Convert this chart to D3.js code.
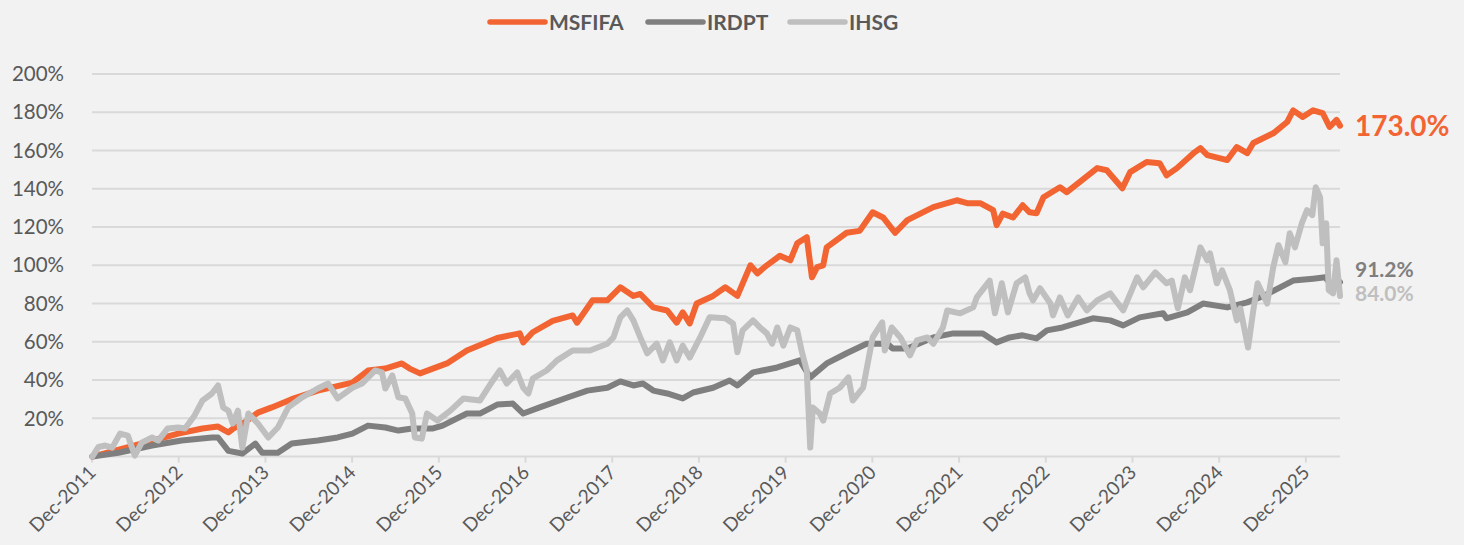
<!DOCTYPE html>
<html>
<head>
<meta charset="utf-8">
<script src="https://cdn.jsdelivr.net/npm/d3@7/dist/d3.min.js"></script>
<style>
html,body{margin:0;padding:0;background:#F2F2F2;}
svg{display:block;}
text{font-family:Lato,"Open Sans",sans-serif;}
</style>
</head>
<body>
<svg id="chart" width="1464" height="545"></svg>
<script>
// ---- Data (decimal years, cumulative return %) ----
const seriesNames = ["MSFIFA", "IRDPT", "IHSG"];
const seriesColors = ["#F26532", "#7F7F7F", "#BFBFBF"];

const msfifaT = [2011.92,2012.41,2012.91,2013.19,2013.37,2013.49,2013.54,2013.68,2013.83,2013.99,2014.22,2014.52,2014.92,2015.10,2015.30,2015.49,2015.58,2015.70,2016.01,2016.24,2016.59,2016.85,2016.89,2017.00,2017.23,2017.46,2017.51,2017.69,2017.86,2018.01,2018.16,2018.24,2018.39,2018.55,2018.66,2018.73,2018.81,2018.89,2019.08,2019.22,2019.36,2019.51,2019.59,2019.70,2019.85,2019.97,2020.05,2020.16,2020.22,2020.28,2020.35,2020.39,2020.62,2020.77,2020.92,2021.04,2021.18,2021.32,2021.62,2021.89,2022.01,2022.16,2022.31,2022.35,2022.42,2022.54,2022.65,2022.73,2022.81,2022.89,2023.08,2023.16,2023.51,2023.62,2023.80,2023.89,2024.08,2024.23,2024.31,2024.43,2024.62,2024.70,2024.78,2025.01,2025.12,2025.24,2025.31,2025.54,2025.70,2025.77,2025.88,2026.00,2026.11,2026.19,2026.27,2026.31];
const msfifaV = [0,5.8,12,14.7,15.7,12.6,14.5,18,23,25.7,30,34.5,38.7,45,46,48.7,46,43.5,48.7,55.5,62,64.4,59.7,65,71,73.8,70,81.7,81.7,88.5,84,85,78,76.4,70,75.4,69.6,80,84,88.5,84,100,95.8,100,105,102.6,111.5,114.7,93.7,99,100,109.4,117,118,127.7,125,117,123.6,130.4,134,132.5,132.5,128.8,121,127,125,131.4,127.7,127.2,135.6,140.8,138.2,150.8,149.7,140.3,148.7,154,153.4,147,150.8,158.6,161.3,157.6,155,161.8,158.6,163.9,169,174.9,181,177.5,181,179.6,172.3,176,173.0];

const irdptT = [2011.92,2012.22,2012.61,2012.95,2013.30,2013.37,2013.49,2013.65,2013.80,2013.88,2014.06,2014.22,2014.52,2014.75,2014.92,2015.10,2015.30,2015.45,2015.61,2015.85,2015.96,2016.24,2016.39,2016.59,2016.77,2016.89,2017.08,2017.40,2017.63,2017.86,2018.01,2018.16,2018.27,2018.39,2018.55,2018.73,2018.85,2019.08,2019.27,2019.36,2019.54,2019.82,2020.08,2020.20,2020.39,2020.62,2020.85,2021.09,2021.15,2021.32,2021.62,2021.85,2022.19,2022.35,2022.50,2022.65,2022.81,2022.93,2023.11,2023.46,2023.66,2023.81,2024.00,2024.27,2024.31,2024.55,2024.73,2025.01,2025.24,2025.42,2025.77,2026.00,2026.14,2026.23,2026.31];
const irdptV = [0,2,5.8,8.4,10,10,3,1.6,6.8,2,2,6.8,8.4,10,12,16.2,15.2,13.6,14.7,14.7,16.2,22.5,22.5,27.2,27.7,22.5,25.7,30.9,34.5,36,39.3,37.2,38.2,34.5,33,30.4,33.5,36,39.8,37.2,44,46.6,50.3,41.4,48.7,54,59,59,56.5,56.5,62.3,64.4,64.4,59.7,62.3,63.4,61.8,66,67.5,72.3,71.2,68.6,72.8,74.9,72.3,75.4,80,78,80.6,83.8,92,93,93.7,88.5,91.2];

const ihsgT = [2011.92,2011.99,2012.07,2012.15,2012.24,2012.33,2012.41,2012.49,2012.61,2012.68,2012.79,2012.91,2012.99,2013.10,2013.19,2013.30,2013.37,2013.43,2013.49,2013.54,2013.60,2013.65,2013.72,2013.83,2013.95,2014.06,2014.18,2014.34,2014.52,2014.64,2014.75,2014.92,2015.03,2015.18,2015.26,2015.30,2015.38,2015.45,2015.53,2015.61,2015.64,2015.72,2015.78,2015.90,2016.05,2016.20,2016.39,2016.54,2016.62,2016.70,2016.82,2016.89,2016.95,2017.00,2017.16,2017.28,2017.46,2017.66,2017.86,2017.93,2018.01,2018.09,2018.16,2018.24,2018.32,2018.43,2018.50,2018.58,2018.66,2018.73,2018.81,2018.93,2019.04,2019.22,2019.31,2019.36,2019.42,2019.54,2019.62,2019.70,2019.76,2019.82,2019.89,2019.97,2020.05,2020.10,2020.16,2020.20,2020.23,2020.31,2020.35,2020.43,2020.54,2020.64,2020.69,2020.81,2020.92,2021.03,2021.06,2021.14,2021.24,2021.35,2021.43,2021.55,2021.62,2021.73,2021.78,2021.93,2022.08,2022.12,2022.27,2022.33,2022.41,2022.48,2022.58,2022.68,2022.73,2022.77,2022.85,2022.97,2023.00,2023.08,2023.17,2023.29,2023.39,2023.51,2023.66,2023.81,2023.97,2024.04,2024.18,2024.31,2024.37,2024.44,2024.52,2024.58,2024.70,2024.78,2024.81,2024.89,2024.95,2025.04,2025.12,2025.16,2025.25,2025.31,2025.36,2025.47,2025.54,2025.60,2025.68,2025.73,2025.79,2025.87,2025.93,2025.99,2026.03,2026.08,2026.11,2026.15,2026.18,2026.23,2026.27,2026.31];
const ihsgV = [0,5,5.8,4.7,12,11,0.5,7.3,10,8.4,14.7,15.2,14.7,21.5,29.3,33,37.2,25.7,24,17.3,24,4.7,22.5,17.3,10,15.2,25.7,31,35.6,38.2,30.4,36,38.2,45,44,35.6,42.4,31,30.4,22.5,10,9.4,22.5,18.8,24,30.4,29.3,39.8,45,38.2,44,36,33,40.8,45,50.3,55.5,55.5,59,62.3,72.8,76.4,71.2,62.3,54,59,50.3,59.7,50.3,58,51.8,62.3,72.8,72.3,69.6,54.5,66,71.2,67.5,64.4,59,67.5,58,67.5,66,55.5,45,4.7,25.7,22.5,18.8,33,36,41.4,29.3,36,62.3,70.2,55.5,67.5,62.3,52.9,60.7,62.3,59,67.5,76.4,74.9,78,83.2,92,74.9,90.6,75.4,90.6,93.7,85.3,81.7,88,80,73.8,83.2,73.8,83.2,76.4,81.7,85.3,76.4,93.7,88.5,96.3,90.6,92,77.5,93.7,87,109.4,102.6,106.3,90.6,97.4,87,71.2,77.5,57,76.4,90.6,80,99,110.5,101.6,116.8,109.4,122,128.8,126.2,140.8,135.6,111.5,122,87,85.3,102.6,84.0];

const yTickValues = [20,40,60,80,100,120,140,160,180,200];
const xTickYears = [2011,2012,2013,2014,2015,2016,2017,2018,2019,2020,2021,2022,2023,2024,2025];
const xTickLabels = ["Dec-2011","Dec-2012","Dec-2013","Dec-2014","Dec-2015","Dec-2016","Dec-2017","Dec-2018","Dec-2019","Dec-2020","Dec-2021","Dec-2022","Dec-2023","Dec-2024","Dec-2025"];
const endLabels = ["173.0%","91.2%","84.0%"];

// ---- Build ----
const series = [
  {name: seriesNames[0], color: seriesColors[0], pts: msfifaT.map((t,i)=>({t, v: msfifaV[i]}))},
  {name: seriesNames[1], color: seriesColors[1], pts: irdptT.map((t,i)=>({t, v: irdptV[i]}))},
  {name: seriesNames[2], color: seriesColors[2], pts: ihsgT.map((t,i)=>({t, v: ihsgV[i]}))}
];

const svg = d3.select("#chart");
const xStart = 2011 + 11/12;
const x = d3.scaleLinear().domain([xStart, 2026.31]).range([92, 1340]);
const y = d3.scaleLinear().domain([0, 200]).range([456.6, 74]);

// gridlines
svg.append("g").selectAll("line").data(yTickValues).join("line")
  .attr("x1", 92).attr("x2", 1340)
  .attr("y1", d => y(d)).attr("y2", d => y(d))
  .attr("stroke", "#D9D9D9").attr("stroke-width", 2);

// y labels
svg.append("g").selectAll("text").data(yTickValues).join("text")
  .attr("x", 64).attr("y", d => y(d)).attr("dy", "0.35em")
  .attr("text-anchor", "end").attr("fill", "#595959")
  .style("font-size", "20.5px").text(d => d + "%");

// x axis
const xTickVals = xTickYears.map(yr => yr + 11/12);
svg.append("line").attr("x1", 92).attr("x2", 1340)
  .attr("y1", y(0)).attr("y2", y(0))
  .attr("stroke", "#D9D9D9").attr("stroke-width", 2);
svg.append("g").selectAll("line").data(xTickVals).join("line")
  .attr("x1", d => x(d)).attr("x2", d => x(d))
  .attr("y1", y(0)).attr("y2", y(0) + 6)
  .attr("stroke", "#D9D9D9").attr("stroke-width", 2);
svg.append("g").selectAll("text").data(xTickVals).join("text")
  .attr("transform", d => `translate(${x(d) + 5},${y(0) + 17}) rotate(-45)`)
  .attr("text-anchor", "end").attr("fill", "#595959")
  .style("font-size", "19px")
  .text((d, i) => xTickLabels[i]);

// lines
const line = d3.line().x(d => x(d.t)).y(d => y(d.v)).curve(d3.curveLinear);
svg.append("g").selectAll("path").data(series).join("path")
  .attr("d", d => line(d.pts))
  .attr("fill", "none").attr("stroke", d => d.color)
  .attr("stroke-width", 6).attr("stroke-linejoin", "round").attr("stroke-linecap", "round");

// end labels
const endY = [126, 270, 294];
const endSize = [28, 21, 21];
series.forEach((s, i) => {
  svg.append("text")
    .attr("x", 1355).attr("y", endY[i]).attr("dy", "0.35em")
    .attr("fill", s.color).style("font-weight", "bold").style("font-size", endSize[i] + "px")
    .text(endLabels[i]);
});

// legend
const legX = [490, 648, 790];
const lg = svg.append("g");
series.forEach((s, i) => {
  lg.append("line").attr("x1", legX[i]).attr("x2", legX[i] + 55)
    .attr("y1", 22).attr("y2", 22)
    .attr("stroke", s.color).attr("stroke-width", 5.5).attr("stroke-linecap", "round");
  lg.append("text").attr("x", legX[i] + 59).attr("y", 22).attr("dy", "0.36em")
    .attr("fill", "#595959").style("font-weight", "bold").style("font-size", "21px")
    .text(s.name);
});
</script>
</body>
</html>
